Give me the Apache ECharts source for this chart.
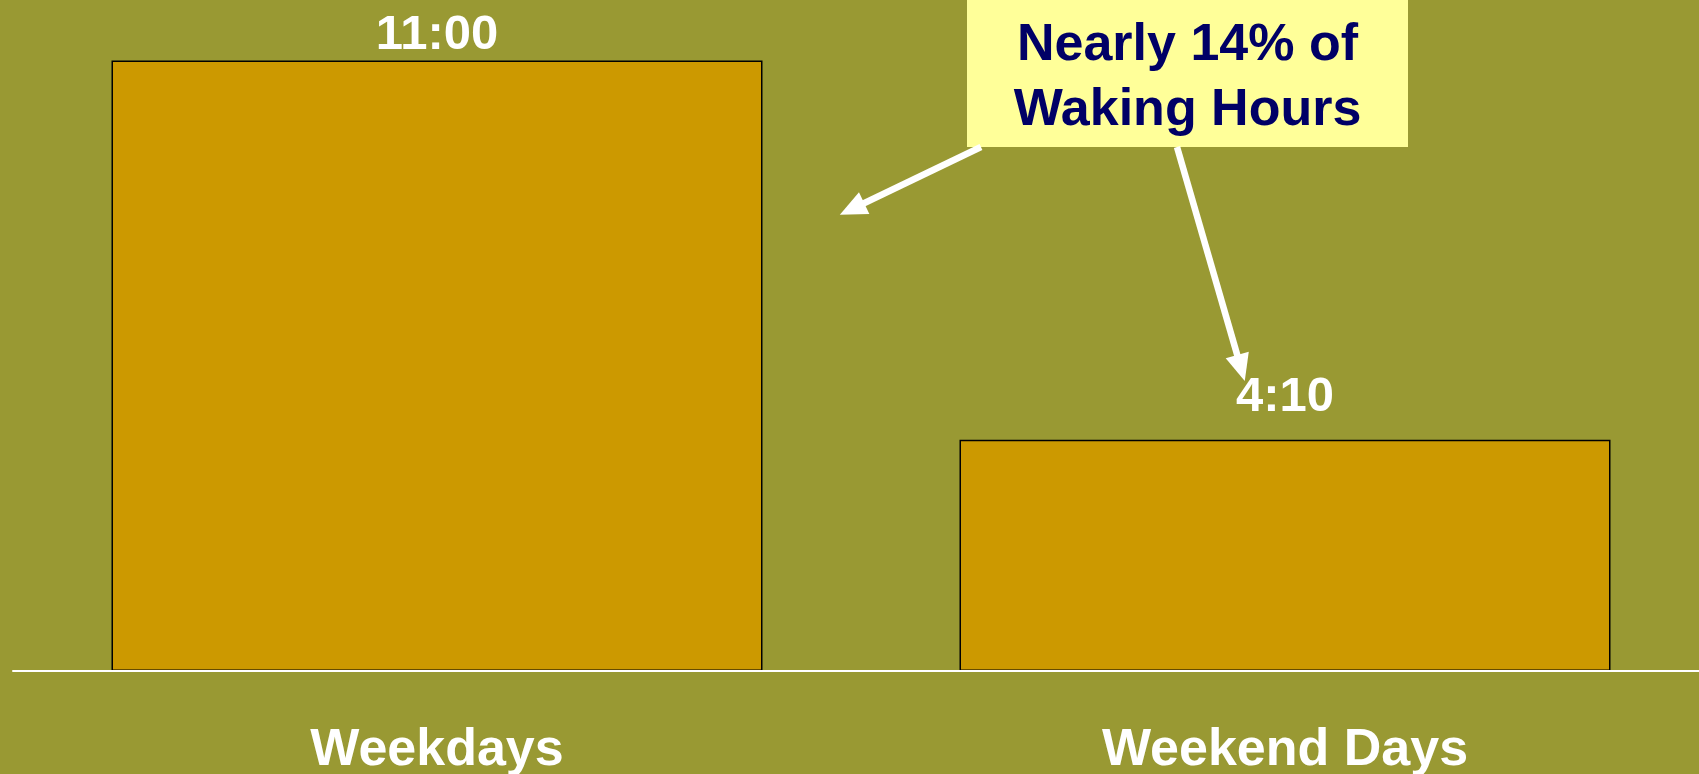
<!DOCTYPE html>
<html>
<head>
<meta charset="utf-8">
<title>Waking Hours</title>
<script src="https://cdn.jsdelivr.net/npm/echarts@6/dist/echarts.min.js"></script>
<style>
  html, body { margin: 0; padding: 0; background: #999933; }
  #chart { width: 1699px; height: 774px; }
</style>
</head>
<body>
<div id="chart"></div>
<script>
// minutes per day
const categories = ['Weekdays', 'Weekend Days'];
const minutes = [660, 250];
const calloutLines = ['Nearly 14% of', 'Waking Hours'];

const FONT = '"Liberation Sans", Arial, sans-serif';

function hhmm(v) {
  const h = Math.floor(v / 60);
  const m = Math.round(v - h * 60);
  return h + ':' + (m < 10 ? '0' + m : m);
}

const chart = echarts.init(document.getElementById('chart'));

chart.setOption({
  backgroundColor: '#999933',
  animation: false,
  grid: [
    // bars sit on the two category ticks
    { left: 437, top: 5, right: 414, bottom: 103, outerBoundsMode: 'none' },
    // full-width baseline
    { left: 13, top: 5, right: 0, bottom: 103, outerBoundsMode: 'none' }
  ],
  xAxis: [{
    type: 'category',
    gridIndex: 0,
    data: categories,
    boundaryGap: false,
    axisLine: { show: false, onZero: false },
    axisTick: { show: false },
    axisLabel: {
      color: '#ffffff',
      fontFamily: FONT,
      fontWeight: 'bold',
      fontSize: 52,
      lineHeight: 52,
      margin: 54
    }
  }, {
    type: 'value',
    gridIndex: 1,
    position: 'bottom',
    min: 0,
    max: 1,
    z: 5,
    axisLine: { show: true, onZero: false, lineStyle: { color: '#ffffff', width: 2 } },
    axisTick: { show: false },
    axisLabel: { show: false },
    splitLine: { show: false }
  }],
  yAxis: [{
    type: 'value',
    gridIndex: 0,
    min: 0,
    max: 720,
    show: false,
    splitLine: { show: false }
  }, {
    type: 'value',
    gridIndex: 1,
    min: 0,
    max: 1,
    show: false,
    splitLine: { show: false }
  }],
  series: [{
    type: 'bar',
    clip: false,
    barWidth: 651,
    data: minutes.map((v, i) => ({
      value: v,
      label: { distance: i === 0 ? 1 : 18 }
    })),
    itemStyle: { color: '#CC9900', borderColor: '#000000', borderWidth: 1.5 },
    label: {
      show: true,
      position: 'top',
      color: '#ffffff',
      fontFamily: FONT,
      fontWeight: 'bold',
      fontSize: 49,
      formatter: p => hhmm(p.value)
    },
    emphasis: { disabled: true },
    markLine: {
      silent: true,
      symbol: ['none', 'triangle'],
      symbolSize: [24, 27],
      label: { show: false },
      lineStyle: { color: '#ffffff', width: 6.5, type: 'solid' },
      emphasis: { disabled: true },
      data: [
        [{ x: 981, y: 147 }, { x: 852, y: 209 }],
        [{ x: 1177, y: 147 }, { x: 1241, y: 368 }]
      ]
    }
  }],
  graphic: [{
    type: 'group',
    z: 100,
    children: [{
      type: 'rect',
      shape: { x: 967, y: 0, width: 441, height: 147 },
      style: { fill: '#FFFF99' }
    }, {
      type: 'text',
      x: 1187.5,
      y: 78,
      style: {
        text: calloutLines.join('\n'),
        fill: '#000066',
        font: 'bold 52px ' + FONT,
        lineHeight: 65,
        align: 'center',
        verticalAlign: 'middle'
      }
    }]
  }]
});
</script>
</body>
</html>
